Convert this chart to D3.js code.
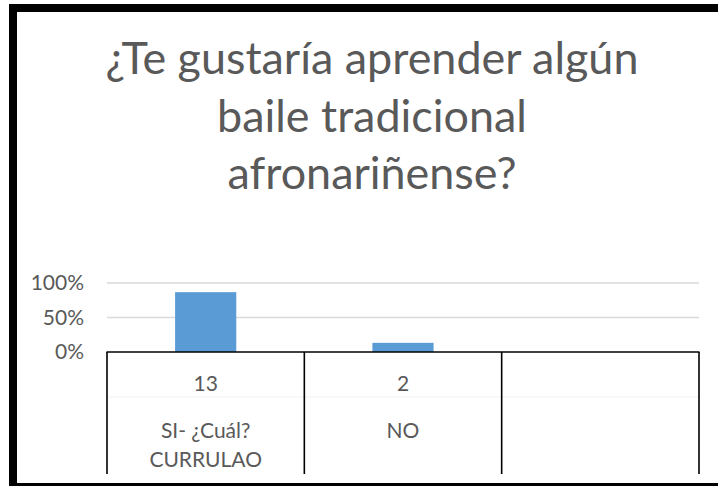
<!DOCTYPE html>
<html>
<head>
<meta charset="utf-8">
<script src="https://cdn.jsdelivr.net/npm/d3@7"></script>
<style>
  html, body { margin: 0; padding: 0; background: #fff; }
  svg { display: block; }
  text { font-family: Lato, "Open Sans", sans-serif; fill: #595959; }
</style>
</head>
<body>
<div id="chart"></div>
<script>
// chart values
const titleLines = ['¿Te gustaría aprender algún', 'baile tradicional', 'afronariñense?'];
const categories = ['SI- ¿Cuál? CURRULAO', 'NO', ''];
const categoryLines = [['SI- ¿Cuál?', 'CURRULAO'], ['NO'], []];
const counts = [13, 2, null];
const shares = [0.867, 0.133, null];
const yTicks = [0, 0.5, 1];

const width = 718, height = 486;
const plot = { left: 107, right: 699, top: 283, bottom: 352, tableBottom: 474 };

const svg = d3.select('#chart').append('svg')
    .attr('width', width)
    .attr('height', height);

// outer frame (cut off on the right in the original)
svg.append('rect')
    .attr('x', 13).attr('y', 8)
    .attr('width', 740).attr('height', 479)
    .attr('fill', 'none')
    .attr('stroke', '#000')
    .attr('stroke-width', 8);

const title = svg.append('g')
    .selectAll('text')
    .data(titleLines)
    .join('text')
    .attr('x', 372)
    .attr('y', (d, i) => 74 + i * 57.5)
    .attr('text-anchor', 'middle')
    .attr('font-size', '36px')
    .text(d => d);

// fit the first title line to the width it has in the picture
const firstLen = title.node().getComputedTextLength();
title.attr('font-size', (36 * 533 / firstLen).toFixed(1) + 'px');

const x = d3.scaleBand()
    .domain(categories)
    .range([plot.left, plot.right])
    .padding(0);

const y = d3.scaleLinear()
    .domain([0, 1])
    .range([plot.bottom, plot.top]);

// gridlines
svg.append('g')
    .selectAll('line')
    .data(yTicks.filter(d => d > 0))
    .join('line')
    .attr('x1', plot.left).attr('x2', plot.right)
    .attr('y1', d => y(d)).attr('y2', d => y(d))
    .attr('stroke', '#d9d9d9')
    .attr('stroke-width', 1.3);

// y axis labels
const yAxis = svg.append('g')
    .attr('transform', `translate(${plot.left},0)`)
    .call(d3.axisLeft(y).tickValues(yTicks).tickFormat(d3.format('.0%')).tickSize(0).tickPadding(23));
yAxis.select('.domain').remove();
yAxis.selectAll('text')
    .attr('font-size', '21px')
    .attr('fill', '#595959')
    .attr('font-family', 'Lato, "Open Sans", sans-serif');

// bars
const barW = x.bandwidth() * 0.31;
svg.append('g')
    .selectAll('rect')
    .data(categories.map((c, i) => ({ c, v: shares[i] })).filter(d => d.v != null))
    .join('rect')
    .attr('x', d => x(d.c) + (x.bandwidth() - barW) / 2)
    .attr('y', d => y(d.v))
    .attr('width', barW)
    .attr('height', d => y(0) - y(d.v))
    .attr('fill', '#5b9bd5');

// data table
const table = svg.append('g');
table.append('line')
    .attr('x1', plot.left).attr('x2', plot.right)
    .attr('y1', 397).attr('y2', 397)
    .attr('stroke', '#f2f2f2');
table.append('line')
    .attr('x1', plot.left - 0.5).attr('x2', plot.right + 0.5)
    .attr('y1', plot.bottom).attr('y2', plot.bottom)
    .attr('stroke', '#000')
    .attr('stroke-width', 1.6);
table.selectAll('line.v')
    .data(categories.map(c => x(c)).concat([plot.right]))
    .join('line')
    .attr('class', 'v')
    .attr('x1', d => d).attr('x2', d => d)
    .attr('y1', plot.bottom).attr('y2', plot.tableBottom)
    .attr('stroke', '#000')
    .attr('stroke-width', 1.6);

table.selectAll('text.count')
    .data(categories.map((c, i) => ({ c, n: counts[i] })).filter(d => d.n != null))
    .join('text')
    .attr('class', 'count')
    .attr('x', d => x(d.c) + x.bandwidth() / 2)
    .attr('y', 391)
    .attr('text-anchor', 'middle')
    .attr('font-size', '21px')
    .text(d => d.n);

categories.forEach((c, i) => {
    table.selectAll(null)
        .data(categoryLines[i])
        .join('text')
        .attr('x', x(c) + x.bandwidth() / 2)
        .attr('y', (d, j) => 438 + j * 29)
        .attr('text-anchor', 'middle')
        .attr('font-size', '21px')
        .text(d => d);
});
</script>
</body>
</html>
